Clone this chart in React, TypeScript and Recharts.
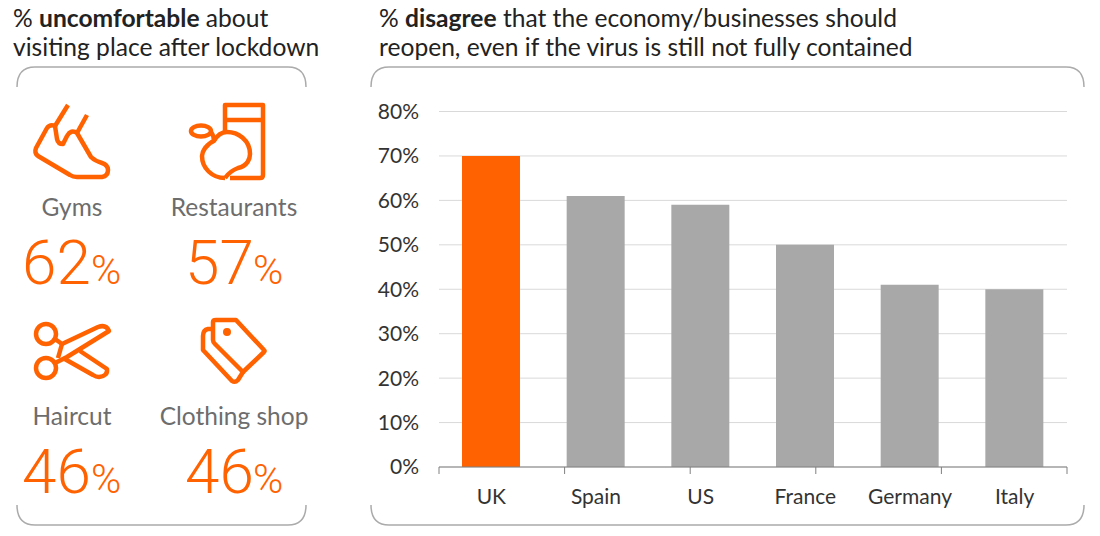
import { BarChart, Bar, Cell, XAxis, YAxis, CartesianGrid } from "recharts"

const countries = ["UK", "Spain", "US", "France", "Germany", "Italy"]
const disagree = [70, 61, 59, 50, 41, 40]
const yTicks = [0, 10, 20, 30, 40, 50, 60, 70, 80]
const bandTicks = [0, 1, 2, 3, 4, 5, 6]

const places = ["Gyms", "Restaurants", "Haircut", "Clothing shop"]
const uncomfortable = [62, 57, 46, 46]

const ORANGE = "#FF6200"
const GREY = "#A8A8A8"
const FONT = "Lato, sans-serif"

const chartData = countries.map((country, i) => ({ country, band: i, value: disagree[i] }))

const placeSlots = [
  { labelX: 72, labelY: 216, numX: 22, numY: 284, pctX: 91 },
  { labelX: 234, labelY: 216, numX: 185, numY: 284, pctX: 253 },
  { labelX: 72, labelY: 425, numX: 22, numY: 493, pctX: 91 },
  { labelX: 234, labelY: 425, numX: 185, numY: 493, pctX: 253 },
]

function Bracket({ x1, x2 }: { x1: number; x2: number }) {
  return (
    <g fill="none" stroke="#ABABAB" strokeWidth={1.5}>
      <path d={`M${x1} 87 Q${x1} 67 ${x1 + 18} 67 L${x2 - 18} 67 Q${x2} 67 ${x2} 87`} />
      <path d={`M${x1} 505 Q${x1} 525 ${x1 + 18} 525 L${x2 - 18} 525 Q${x2} 525 ${x2} 505`} />
    </g>
  )
}

function Icons() {
  return (
    <g fill="none" stroke={ORANGE} strokeWidth={4.5} strokeLinejoin="round" strokeLinecap="butt">
      {/* shoe */}
      <path d="M68 105 L55 126 M87 115 L77 133" />
      <path d="M55 126 Q50 124 47 128 L36 148 Q34 153 38 156 L70 175 Q73 177 77 177 L102 177 Q108 176 108 170 Q108 165 102 163 Q95 161 91 157 L77 133 Q71 129 67 136 L63 144 Q58 144 57 139 L55 126" />
      {/* glass + apple */}
      <path d="M225 132 L225 105 L263 105 L263 175 Q263 178 260 178 L230 178" />
      <path d="M225 120 L263 120" />
      <path d="M225 178 Q230 171 238 168 C248 166 250 158 250 154 C250 140 238 132 227 132 Q219 132 214 141 C206 144 202 152 202 156 C202 168 212 178 225 178" />
      <ellipse cx={201} cy={131} rx={10} ry={5.5} />
      <path d="M211 132 Q214 136 214 141" />
      {/* scissors */}
      <circle cx={46} cy={334} r={10} />
      <circle cx={46} cy={368} r={10} />
      <path d="M55 339 L62 344 L98 327 Q106 324 109 331 L67 357 L55 363" />
      <path d="M62 344 L58 358" />
      <path d="M80 351 L107 369 Q108 376 99 377 Q96 377 93 375 L63 358" />
      {/* tags */}
      <path d="M213 322 Q213 320 216 320 L236 320 L264 350 Q265 351 264 352 L243 372 L215 344 Q213 342 213 340 Z" />
      <path d="M212 329 L208 329 Q203 330 203 336 L203 350 L232 381 Q235 383 238 380 L243 372" />
      <circle cx={227} cy={332} r={3} fill={ORANGE} stroke={ORANGE} strokeWidth={2} />
    </g>
  )
}

function Overlay() {
  return (
    <svg width={1100} height={536} style={{ position: "absolute", left: 0, top: 0 }} fontFamily={FONT}>
      <g fontSize={24.6} fill="#222222">
        <text x={13} y={27}>
          % <tspan fontWeight={700}>uncomfortable</tspan> about
        </text>
        <text x={13} y={56}>visiting place after lockdown</text>
        <text x={379} y={27}>
          % <tspan fontWeight={700}>disagree</tspan> that the economy/businesses should
        </text>
        <text x={379} y={56}>reopen, even if the virus is still not fully contained</text>
      </g>
      <Bracket x1={17} x2={306} />
      <Bracket x1={371} x2={1084} />
      <Icons />
      {places.map((place, i) => {
        const s = placeSlots[i]
        return (
          <g key={place}>
            <text x={s.labelX} y={s.labelY} textAnchor="middle" fontSize={24.5} fill="#6D6D6D">
              {place}
            </text>
            <text x={s.numX} y={s.numY} fontSize={62} fontWeight={300} fontFamily="Roboto, sans-serif" fill={ORANGE}>
              {uncomfortable[i]}
            </text>
            <text x={s.pctX} y={s.numY} fontSize={41} fontWeight={300} fontFamily="Roboto, sans-serif" fill={ORANGE}>
              %
            </text>
          </g>
        )
      })}
    </svg>
  )
}

export default function App() {
  return (
    <div style={{ position: "absolute", left: 0, top: 0, width: 1100, height: 536, background: "#fff" }}>
      <BarChart
        width={1100}
        height={536}
        data={chartData}
        margin={{ top: 111.5, right: 33, bottom: 0, left: 379 }}
        barSize={58}
      >
        <CartesianGrid horizontal vertical={false} stroke="#D9D9D9" />
        <XAxis
          xAxisId="bands"
          type="number"
          domain={[0, 6]}
          ticks={bandTicks}
          tickFormatter={() => ""}
          height={1}
          tickSize={7}
          stroke="#808080"
        />
        <XAxis
          xAxisId="names"
          dataKey="country"
          height={68}
          axisLine={false}
          tickLine={false}
          tickMargin={15}
          interval={0}
          tick={{ fontSize: 21, fontFamily: FONT, fill: "#333333" }}
        />
        <YAxis
          domain={[0, 80]}
          ticks={yTicks}
          width={60}
          axisLine={false}
          tickLine={false}
          tickMargin={14}
          tickFormatter={(v: number) => `${v}%`}
          tick={{ fontSize: 21, fontFamily: FONT, fill: "#333333" }}
        />
        <Bar dataKey="value" xAxisId="names" isAnimationActive={false}>
          {chartData.map((d, i) => (
            <Cell key={d.country} fill={i === 0 ? ORANGE : GREY} />
          ))}
        </Bar>
      </BarChart>
      <Overlay />
    </div>
  )
}
